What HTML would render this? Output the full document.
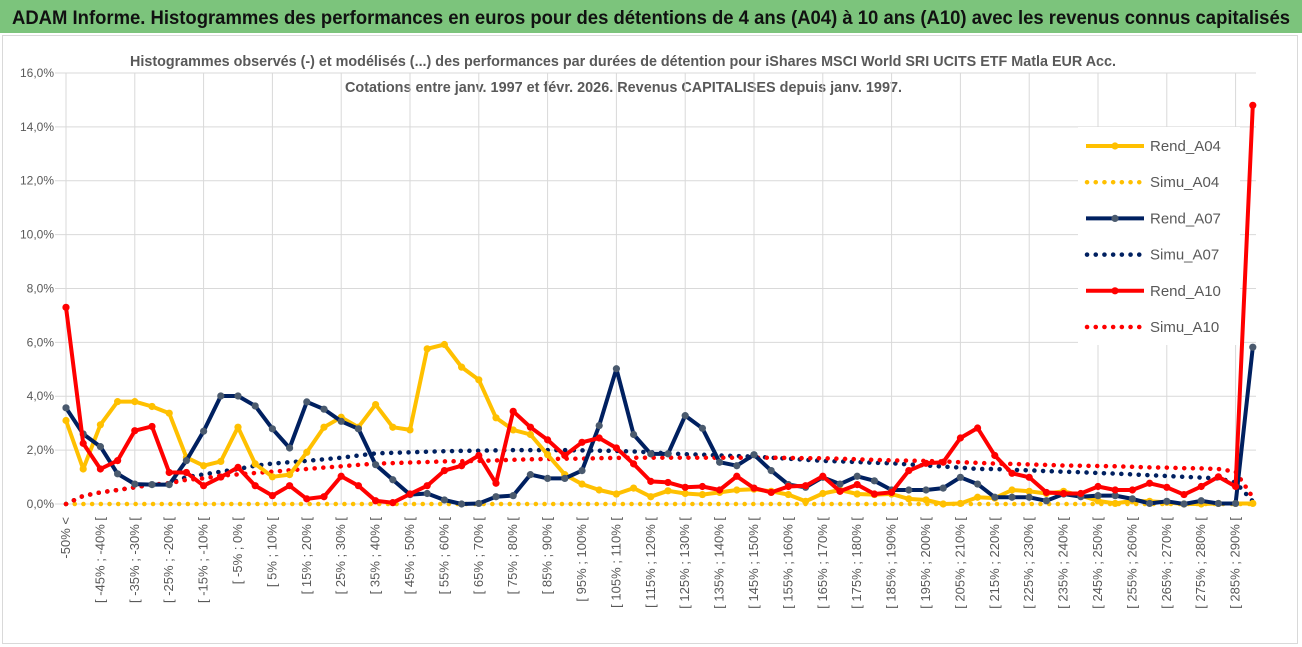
<!DOCTYPE html>
<html><head><meta charset="utf-8"><style>
html,body{margin:0;padding:0;background:#fff;}
svg{display:block;font-family:"Liberation Sans",sans-serif;}
</style></head><body>
<svg id="chart" width="1302" height="647" viewBox="0 0 1302 647" xmlns="http://www.w3.org/2000/svg">
<rect x="0" y="0" width="1302" height="647" fill="#fff"/>
<rect x="0" y="0" width="1302" height="33" fill="#7cc47c"/>
<text x="12" y="24" font-size="19" font-weight="bold" fill="#111" textLength="1278" lengthAdjust="spacingAndGlyphs">ADAM Informe. Histogrammes des performances en euros pour des détentions de 4 ans (A04) à 10 ans (A10) avec les revenus connus capitalisés</text>
<rect x="2.5" y="35.5" width="1295" height="608" fill="none" stroke="#d9d9d9"/>
<text x="130" y="66" font-size="15" font-weight="bold" fill="#595959" textLength="986" lengthAdjust="spacingAndGlyphs">Histogrammes observés (-) et modélisés (...) des performances par durées de détention pour iShares MSCI World SRI UCITS ETF Matla EUR Acc.</text>
<text x="345" y="92" font-size="15" font-weight="bold" fill="#595959" textLength="557" lengthAdjust="spacingAndGlyphs">Cotations entre janv. 1997 et févr. 2026. Revenus CAPITALISES depuis janv. 1997.</text>
<g id="grid"></g>
<g id="ylabels"></g>
<g id="xlabels"></g>
<g id="series"></g>
<g id="legend"></g>
</svg>
<script>
const yTicks = [0,2,4,6,8,10,12,14,16];
const rendA04 = [3.10,1.30,2.94,3.80,3.80,3.62,3.37,1.73,1.42,1.58,2.85,1.49,1.01,1.09,1.92,2.85,3.22,2.85,3.69,2.85,2.75,5.76,5.92,5.08,4.61,3.20,2.75,2.58,1.83,1.09,0.74,0.52,0.37,0.59,0.27,0.49,0.39,0.35,0.43,0.52,0.55,0.47,0.35,0.10,0.39,0.52,0.37,0.35,0.37,0.19,0.15,0.0,0.02,0.25,0.22,0.52,0.47,0.39,0.47,0.31,0.12,0.02,0.12,0.10,0.06,0.0,0.0,0.02,0.02,0.02];
const rendA07 = [3.57,2.60,2.13,1.12,0.74,0.72,0.72,1.61,2.70,4.01,4.01,3.64,2.79,2.08,3.79,3.52,3.07,2.79,1.46,0.90,0.35,0.39,0.15,0.0,0.02,0.27,0.31,1.09,0.95,0.95,1.24,2.91,5.02,2.58,1.86,1.86,3.28,2.81,1.55,1.42,1.83,1.24,0.72,0.62,0.99,0.74,1.03,0.86,0.52,0.52,0.52,0.59,0.99,0.74,0.25,0.25,0.25,0.12,0.37,0.27,0.31,0.31,0.19,0.02,0.10,0.0,0.12,0.02,0.02,5.82];
const rendA10 = [7.30,2.25,1.30,1.61,2.72,2.88,1.17,1.17,0.68,1.00,1.36,0.68,0.31,0.68,0.19,0.27,1.03,0.68,0.12,0.05,0.37,0.68,1.24,1.42,1.80,0.77,3.44,2.85,2.38,1.80,2.29,2.45,2.08,1.49,0.84,0.80,0.62,0.65,0.52,1.03,0.59,0.43,0.65,0.68,1.03,0.47,0.72,0.37,0.43,1.24,1.51,1.55,2.45,2.82,1.80,1.14,0.99,0.43,0.39,0.39,0.65,0.52,0.52,0.77,0.62,0.35,0.65,1.01,0.65,14.8];
const simuA04 = [0,0,0,0,0,0,0,0,0,0,0,0,0,0,0,0,0,0,0,0,0,0,0,0,0,0,0,0,0,0,0,0,0,0,0,0,0,0,0,0,0,0,0,0,0,0,0,0,0,0,0,0,0,0,0,0,0,0,0,0,0,0,0,0,0,0,0,0,0,0];
const simuA07 = [0,0.30,0.43,0.52,0.62,0.72,0.77,1.0,1.1,1.2,1.3,1.42,1.5,1.55,1.6,1.66,1.72,1.8,1.88,1.9,1.92,1.94,1.96,1.97,1.98,1.99,2.0,2.0,2.0,2.0,1.99,1.98,1.97,1.95,1.92,1.88,1.85,1.83,1.8,1.78,1.76,1.72,1.68,1.64,1.6,1.58,1.56,1.53,1.51,1.47,1.43,1.39,1.35,1.3,1.3,1.27,1.25,1.22,1.2,1.18,1.15,1.13,1.1,1.07,1.04,1.01,0.98,0.95,0.8,0.1];
const simuA10 = [0,0.30,0.43,0.52,0.62,0.72,0.77,0.9,0.95,1.05,1.1,1.15,1.2,1.25,1.3,1.35,1.4,1.45,1.5,1.52,1.54,1.56,1.58,1.59,1.6,1.62,1.64,1.66,1.67,1.68,1.68,1.7,1.71,1.72,1.72,1.72,1.72,1.72,1.72,1.72,1.72,1.72,1.71,1.7,1.7,1.68,1.66,1.64,1.62,1.61,1.6,1.58,1.55,1.53,1.5,1.49,1.47,1.45,1.43,1.42,1.41,1.4,1.38,1.36,1.35,1.33,1.32,1.3,1.2,0.25];
const seriesNames = ["Rend_A04","Simu_A04","Rend_A07","Simu_A07","Rend_A10","Simu_A10"];

const NS="http://www.w3.org/2000/svg";
const X0=66, DX=17.2, Y0=504, PPU=26.94;
const xs=i=>X0+i*DX;
const ys=v=>Y0-v*PPU;
function mk(tag,attrs,parent){const e=document.createElementNS(NS,tag);for(const k in attrs)e.setAttribute(k,attrs[k]);parent.appendChild(e);return e;}
const n=rendA04.length;
const catLabel=i=>i===0?"-50% <":"[ "+(-55+5*i)+"% ; "+(-50+5*i)+"% [";

const grid=document.getElementById('grid');
yTicks.forEach(t=>{
  const l=mk('line',{x1:55,x2:1256,y1:ys(t),y2:ys(t),stroke:'#d9d9d9','stroke-width':1},grid);
  
  
  const tx=mk('text',{x:54,y:ys(t)+4,'text-anchor':'end','font-size':12,fill:'#595959'},document.getElementById('ylabels'));
  tx.textContent=t.toFixed(1).replace('.',',')+'%';
  
  
});
for(let i=0;i<n;i+=4){
  const l=mk('line',{x1:xs(i),x2:xs(i),y1:ys(16),y2:Y0,stroke:'#d9d9d9','stroke-width':1},grid);
  
  
}
const xl=document.getElementById('xlabels');
for(let i=0;i<n;i+=2){
  const x=xs(i)+4,y=517;
  const t=mk('text',{x:x,y:y,'text-anchor':'end','font-size':13,fill:'#595959',transform:`rotate(-90 ${x} ${y})`},xl);
  t.textContent=catLabel(i);
  
  
}
const sg=document.getElementById('series');
function pts(arr){return arr.map((v,i)=>xs(i).toFixed(1)+','+ys(v).toFixed(1)).join(' ');}
function dotted(arr,color,name){
  const p=mk('polyline',{points:pts(arr),fill:'none',stroke:color,'stroke-width':4.5,'stroke-linecap':'round','stroke-dasharray':'0.1 8.6'},sg);
  
  
}
function solid(arr,color,mcolor,name){
  const p=mk('polyline',{points:pts(arr),fill:'none',stroke:color,'stroke-width':4,'stroke-linejoin':'round'},sg);
  
  
  arr.forEach((v,i)=>{
    const c=mk('circle',{cx:xs(i),cy:ys(v),r:3.6,fill:mcolor},sg);
    
    
  });
}
dotted(simuA04,'#FFC000','simu-a04-line');
dotted(simuA07,'#002060','simu-a07-line');
dotted(simuA10,'#FF0000','simu-a10-line');
solid(rendA04,'#FFC000','#FFC000','rend-a04-line');
solid(rendA07,'#002060','#4a5a6e','rend-a07-line');
solid(rendA10,'#FF0000','#FF0000','rend-a10-line');

const lg=document.getElementById('legend');
const lbg=mk('rect',{x:1078,y:127,width:162,height:218,fill:'#fff'},lg);


const lcols=['#FFC000','#FFC000','#002060','#002060','#FF0000','#FF0000'];
const lmark=['#FFC000',null,'#4a5a6e',null,'#FF0000',null];
seriesNames.forEach((nm,k)=>{
  const y=146+k*36.2;
  const g=mk('g',{},lg);
  
  
  if(lmark[k]){
    mk('line',{x1:1086,x2:1144,y1:y,y2:y,stroke:lcols[k],'stroke-width':4},g);
    mk('circle',{cx:1115,cy:y,r:3.6,fill:lmark[k]},g);
  } else {
    mk('line',{x1:1087,x2:1144,y1:y,y2:y,stroke:lcols[k],'stroke-width':4.5,'stroke-linecap':'round','stroke-dasharray':'0.1 8.6'},g);
  }
  const t=mk('text',{x:1150,y:y+5,'font-size':15,fill:'#595959'},g);
  t.textContent=nm;
});
</script>
</body></html>
